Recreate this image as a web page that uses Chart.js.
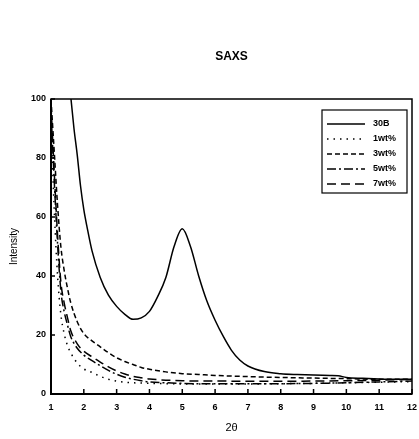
<!DOCTYPE html>
<html>
<head>
<meta charset="utf-8">
<script src="https://cdn.jsdelivr.net/npm/chart.js@4"></script>
<style>
  body { margin: 0; background: #fff; }
  canvas { display: block; }
</style>
</head>
<body>
<canvas id="saxsChart" width="419" height="439"></canvas>
<script>
// 30B clay, sampled where it is inside the plot (it leaves the top near 2θ = 1.6)
const x30B = [1.5, 1.6, 1.7, 1.8, 1.9, 2.0, 2.1, 2.25, 2.5, 2.75, 3.0, 3.25, 3.5, 3.75, 4.0, 4.25, 4.5, 4.75, 5.0, 5.25, 5.5, 5.75, 6.0, 6.25, 6.5, 6.75, 7.0, 7.5, 8.0, 8.5, 9.0, 9.5, 9.75, 10.0, 10.5, 11.0, 11.5, 12.0];
const y30B = [114, 101, 90, 81, 70.5, 62.5, 56.5, 48.5, 39.5, 33.5, 29.7, 27, 25.3, 25.8, 28, 33, 39.5, 50, 56, 50, 40, 31.5, 25, 19.5, 14.8, 11.5, 9.5, 7.6, 6.9, 6.6, 6.4, 6.3, 6.2, 5.6, 5.3, 5.1, 5.0, 5.0];

// nanocomposites share one 2θ grid
const xLow = [1.0, 1.1, 1.2, 1.3, 1.4, 1.5, 1.6, 1.8, 2.0, 2.25, 2.5, 2.75, 3.0, 3.25, 3.5, 3.75, 4.0, 4.5, 5.0, 5.5, 6.0, 7.0, 8.0, 9.0, 10.0, 11.0, 12.0];
const y1wt = [92, 62, 40, 27, 20.5, 16.5, 14, 10.5, 8.5, 7.3, 6, 5, 4.4, 4, 3.8, 3.7, 3.6, 3.5, 3.4, 3.4, 3.4, 3.4, 3.5, 3.6, 3.8, 4.0, 4.2];
const y3wt = [100, 82, 64, 50, 42, 36, 31, 24.5, 20.5, 18, 16, 14, 12.3, 11, 10, 9, 8.4, 7.5, 6.9, 6.6, 6.3, 5.9, 5.6, 5.4, 5.2, 5.0, 5.0];
const y5wt = [96, 72, 51, 35, 28, 23.5, 19.5, 15.5, 13.2, 11.3, 9.6, 8, 6.7, 5.7, 5, 4.5, 4.1, 3.8, 3.6, 3.5, 3.5, 3.5, 3.5, 3.6, 3.8, 4.1, 4.4];
const y7wt = [98, 75, 54, 38, 31, 26, 21.5, 17, 14.5, 12.6, 10.8, 9.2, 7.8, 6.8, 6, 5.5, 5.1, 4.7, 4.5, 4.4, 4.4, 4.3, 4.3, 4.4, 4.5, 4.7, 4.9];

const seriesLabels = ["30B", "1wt%", "3wt%", "5wt%", "7wt%"];
const xTicks = [1, 2, 3, 4, 5, 6, 7, 8, 9, 10, 11, 12];
const yTicks = [0, 20, 40, 60, 80, 100];

const FONT = "'Liberation Sans', Arial, sans-serif";

function pairs(xs, ys) {
  return xs.map((x, i) => ({ x: x, y: ys[i] }));
}

function lineSet(label, points, dash) {
  return {
    label: label,
    data: points,
    showLine: true,
    borderColor: "#000",
    borderWidth: 1.5,
    borderDash: dash,
    pointRadius: 0,
    cubicInterpolationMode: "monotone",
  };
}

// frame, inward ticks, title and legend box
const decorations = {
  id: "decorations",
  afterDraw(chart) {
    const ctx = chart.ctx;
    const area = chart.chartArea;
    const sx = chart.scales.x;
    const sy = chart.scales.y;
    ctx.save();
    ctx.strokeStyle = "#000";
    ctx.setLineDash([]);

    ctx.lineWidth = 1.5;
    ctx.strokeRect(area.left, area.top, area.right - area.left, area.bottom - area.top);
    ctx.lineWidth = 2;
    ctx.beginPath();
    ctx.moveTo(area.left, area.top);
    ctx.lineTo(area.left, area.bottom);
    ctx.lineTo(area.right, area.bottom);
    ctx.stroke();

    ctx.lineWidth = 1.5;
    ctx.beginPath();
    xTicks.forEach((t) => {
      const px = sx.getPixelForValue(t);
      ctx.moveTo(px, area.bottom);
      ctx.lineTo(px, area.bottom - 5);
    });
    yTicks.forEach((t) => {
      const py = sy.getPixelForValue(t);
      ctx.moveTo(area.left, py);
      ctx.lineTo(area.left + 4, py);
    });
    ctx.stroke();

    ctx.fillStyle = "#000";
    ctx.font = "bold 12px " + FONT;
    ctx.textAlign = "center";
    ctx.textBaseline = "middle";
    ctx.fillText("SAXS", (area.left + area.right) / 2, 57);

    // legend
    const boxL = 322, boxT = 110, boxR = 407, boxB = 193;
    ctx.lineWidth = 1.2;
    ctx.strokeRect(boxL, boxT, boxR - boxL, boxB - boxT);
    ctx.font = "bold 9px " + FONT;
    ctx.textAlign = "left";
    chart.data.datasets.forEach((ds, i) => {
      const y = 124 + i * 15;
      ctx.setLineDash(ds.borderDash || []);
      ctx.lineWidth = 1.4;
      ctx.beginPath();
      ctx.moveTo(327, y);
      ctx.lineTo(365, y);
      ctx.stroke();
      ctx.setLineDash([]);
      ctx.fillText(ds.label, 373, y);
    });
    ctx.restore();
  },
};

const ctx = document.getElementById("saxsChart").getContext("2d");
new Chart(ctx, {
  type: "scatter",
  data: {
    datasets: [
      lineSet(seriesLabels[0], pairs(x30B, y30B), []),
      lineSet(seriesLabels[1], pairs(xLow, y1wt), [1.5, 5]),
      lineSet(seriesLabels[2], pairs(xLow, y3wt), [5, 3]),
      lineSet(seriesLabels[3], pairs(xLow, y5wt), [9, 3, 2, 3]),
      lineSet(seriesLabels[4], pairs(xLow, y7wt), [9, 5]),
    ],
  },
  options: {
    responsive: false,
    animation: false,
    layout: { padding: { top: 99, right: 7, left: 0, bottom: 0 } },
    plugins: {
      legend: { display: false },
      title: { display: false },
      tooltip: { enabled: false },
    },
    scales: {
      x: {
        type: "linear",
        min: 1,
        max: 12,
        afterBuildTicks: (s) => { s.ticks = xTicks.map((v) => ({ value: v })); },
        afterFit: (s) => { s.height = 45; s.paddingLeft = 0; s.paddingRight = 0; },
        grid: { display: false, drawTicks: false },
        border: { display: false },
        ticks: { padding: 8, color: "#000", font: { family: FONT, size: 9, weight: "bold" } },
        title: {
          display: true,
          text: "2θ",
          color: "#000",
          padding: { top: 0, bottom: 4 },
          font: { family: FONT, size: 11 },
        },
      },
      y: {
        min: 0,
        max: 100,
        afterBuildTicks: (s) => { s.ticks = yTicks.map((v) => ({ value: v })); },
        afterFit: (s) => { s.width = 51; s.paddingTop = 0; s.paddingBottom = 0; },
        grid: { display: false, drawTicks: false },
        border: { display: false },
        ticks: { padding: 5, color: "#000", font: { family: FONT, size: 9, weight: "bold" } },
        title: {
          display: true,
          text: "Intensity",
          color: "#000",
          padding: { top: 8, bottom: 0 },
          font: { family: FONT, size: 10 },
        },
      },
    },
  },
  plugins: [decorations],
});
</script>
</body>
</html>
